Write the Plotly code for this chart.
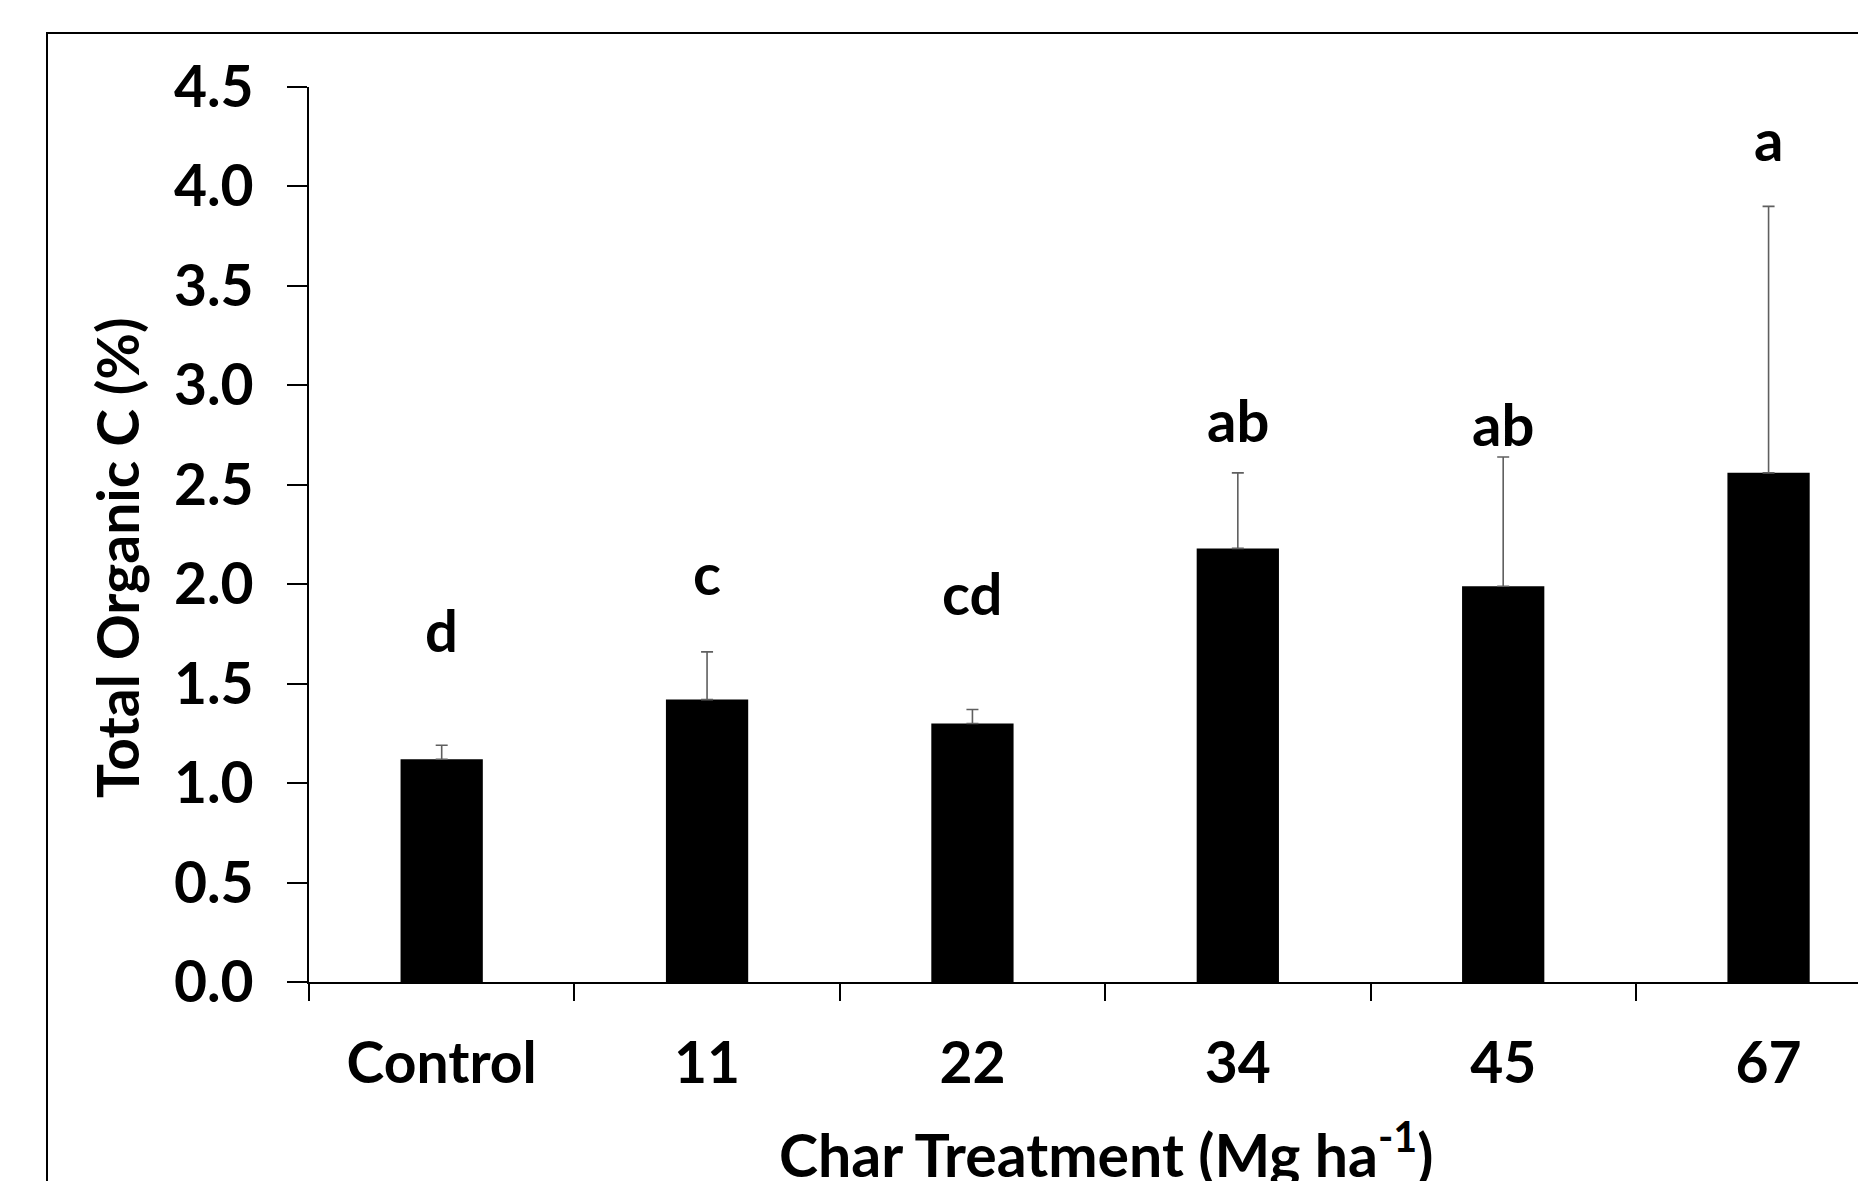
import plotly.graph_objects as go

categories = ["Control", "11", "22", "34", "45", "67"]
toc_values = [1.12, 1.42, 1.30, 2.18, 1.99, 2.56]
toc_errors = [0.07, 0.24, 0.07, 0.38, 0.65, 1.34]
letters = ["d", "c", "cd", "ab", "ab", "a"]
letter_y = [1.77, 2.06, 1.96, 2.83, 2.81, 4.24]
y_ticks = [0.0, 0.5, 1.0, 1.5, 2.0, 2.5, 3.0, 3.5, 4.0, 4.5]

W, H = 1858, 1181
L, R, T, B = 309, 0, 87, 199
FONT = "Lato"
FS = 57

fig = go.Figure()
fig.add_trace(go.Bar(
    x=categories, y=toc_values,
    marker=dict(color="#000000", line=dict(width=0)),
    error_y=dict(type="data", array=toc_errors, arrayminus=[0]*len(toc_errors),
                 symmetric=False, color="#5f5f5f", thickness=1.6, width=6),
    showlegend=False,
))

for i, (t, yy) in enumerate(zip(letters, letter_y)):
    fig.add_annotation(x=i, y=yy, xref="x", yref="y", text=t, showarrow=False,
                       xanchor="center", yanchor="middle",
                       font=dict(family=FONT, size=FS + 1, color="#000", weight="bold"))

pw = W - L - R
ph = H - T - B
def px(xp):
    return (xp - L) / pw
def py(yp):
    return (H - B - yp) / ph

fig.add_annotation(x=px(1106), y=py(1150), xref="paper", yref="paper",
                   text="Char Treatment (Mg ha<sup>-1</sup>)", showarrow=False,
                   xanchor="center", yanchor="middle",
                   font=dict(family=FONT, size=59, color="#000", weight="bold"))
fig.add_annotation(x=px(117), y=py(558), xref="paper", yref="paper",
                   text="Total Organic C (%)", showarrow=False, textangle=-90,
                   xanchor="center", yanchor="middle",
                   font=dict(family=FONT, size=FS, color="#000", weight="bold"))

fig.add_shape(type="rect", xref="paper", yref="paper",
              x0=px(47), x1=px(1950), y0=py(1300), y1=py(33),
              line=dict(color="#000", width=2), fillcolor="rgba(0,0,0,0)", layer="below")

fig.update_layout(
    width=W, height=H,
    margin=dict(l=L, r=R, t=T, b=B, autoexpand=False),
    paper_bgcolor="white", plot_bgcolor="white",
    bargap=0.69,
    font=dict(family=FONT, color="#000"),
    xaxis=dict(type="category", categoryorder="array", categoryarray=categories,
               range=[-0.5, 5.337], tickson="boundaries", ticks="outside", ticklen=17,
               tickwidth=2, tickcolor="#000", showline=True, linewidth=2, linecolor="#000",
               showgrid=False, zeroline=False, ticklabelstandoff=31,
               tickfont=dict(family=FONT, size=FS, color="#000", weight="bold")),
    yaxis=dict(range=[0, 4.5], tickvals=y_ticks, ticktext=[f"{v:.1f}" for v in y_ticks],
               ticks="outside", ticklen=20, tickwidth=2, tickcolor="#000",
               showline=True, linewidth=2, linecolor="#000", showgrid=False, zeroline=False,
               ticklabelstandoff=22,
               tickfont=dict(family=FONT, size=FS, color="#000", weight="bold")),
)

fig.write_html("out.html")
